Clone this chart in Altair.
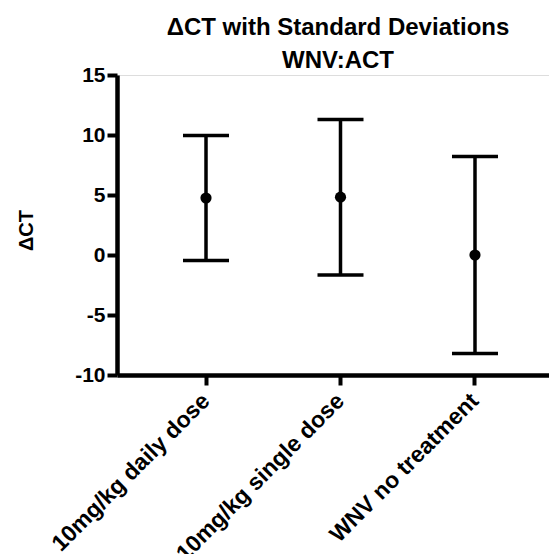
import altair as alt
import pandas as pd

categories = ["10mg/kg daily dose", "10mg/kg single dose", "WNV no treatment"]
means = [4.75, 4.82, 0.0]
sds = [5.2, 6.48, 8.2]
y_ticks = [-10, -5, 0, 5, 10, 15]

df = pd.DataFrame({"group": categories, "mean": means, "sd": sds})

FONT = "Liberation Sans"

x_enc = alt.X(
    "group:N",
    sort=categories,
    scale=alt.Scale(paddingInner=0, paddingOuter=0.106, align=0.763),
    axis=alt.Axis(
        title=None,
        labelAngle=-45,
        labelAlign="right",
        labelBaseline="middle",
        labelFont=FONT,
        labelFontSize=23,
        labelFontWeight="bold",
        labelColor="black",
        labelPadding=12,
        labelLimit=400,
        labelOverlap=False,
        tickSize=10,
        tickWidth=4,
        tickColor="black",
        domainColor="black",
        domainWidth=4.5,
    ),
)

y_scale = alt.Scale(domain=[-10, 15], nice=False, zero=False)
y_axis = alt.Axis(
    title="ΔCT",
    values=y_ticks,
    labelExpr="'' + datum.value",
    labelFont=FONT,
    labelFontSize=21,
    labelFontWeight="bold",
    labelColor="black",
    labelPadding=2,
    tickSize=10,
    tickWidth=4,
    tickColor="black",
    domainColor="black",
    domainWidth=4.5,
    grid=False,
    titleFont=FONT,
    titleFontSize=20,
    titleFontWeight="bold",
    titleColor="black",
    titleAngle=-90,
    titleAlign="center",
    titleBaseline="bottom",
    titleX=-81,
    titleY=155,
)

base = alt.Chart(df).transform_calculate(
    lower="datum.mean - datum.sd", upper="datum.mean + datum.sd"
)

rule = base.mark_rule(color="black", strokeWidth=3.5).encode(
    x=x_enc,
    y=alt.Y("lower:Q", scale=y_scale, axis=y_axis),
    y2="upper:Q",
)
cap_hi = base.mark_tick(color="black", size=46, thickness=3.5, opacity=1).encode(
    x=x_enc, y=alt.Y("upper:Q", scale=y_scale)
)
cap_lo = base.mark_tick(color="black", size=46, thickness=3.5, opacity=1).encode(
    x=x_enc, y=alt.Y("lower:Q", scale=y_scale)
)
pts = base.mark_circle(color="black", size=125, opacity=1).encode(
    x=x_enc, y=alt.Y("mean:Q", scale=y_scale)
)

chart = (
    alt.layer(rule, cap_hi, cap_lo, pts)
    .properties(
        width=432,
        height=300,
        title=alt.TitleParams(
            text=["ΔCT with Standard Deviations", "WNV:ACT"],
            font=FONT,
            fontSize=24,
            fontWeight="bold",
            color="black",
            anchor="middle",
            lineHeight=33,
            offset=-9,
            dx=5,
        ),
        autosize=alt.AutoSizeParams(type="none"),
        padding={"left": 109, "top": 67, "right": 0, "bottom": 179},
    )
    .configure_view(stroke=None)
    .configure(background="white")
)

chart.save("out.html", embed_options={"renderer": "svg", "actions": False})
